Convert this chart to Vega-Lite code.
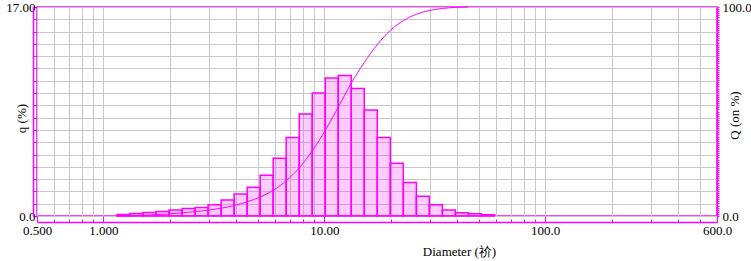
{
  "$schema": "https://vega.github.io/schema/vega-lite/v6.json",
  "width": 680,
  "height": 209,
  "autosize": {"type": "none"},
  "padding": {"left": 37, "top": 7, "right": 34, "bottom": 45},
  "background": "white",
  "config": {
    "font": "'Liberation Serif', 'Times New Roman', 'DejaVu Serif', serif",
    "view": {"stroke": "#ff00ff", "strokeWidth": 1.5},
    "axis": {
      "labelFont": "'Liberation Serif', 'Times New Roman', 'DejaVu Serif', serif",
      "titleFont": "'Liberation Serif', 'Times New Roman', 'DejaVu Serif', serif",
      "labelFontSize": 13,
      "titleFontSize": 13,
      "titleFontWeight": "normal",
      "labelColor": "black",
      "titleColor": "black",
      "domainColor": "#ff00ff",
      "domainWidth": 1.5,
      "tickColor": "#ff00ff",
      "tickWidth": 1,
      "gridColor": "#c8c8c8",
      "gridWidth": 1,
      "gridOpacity": 1,
      "labelFlush": false,
      "labelOverlap": false
    }
  },
  "datasets": {
    "bins": [
      {"lo": 1.151, "hi": 1.318, "q": 0.13},
      {"lo": 1.318, "hi": 1.51, "q": 0.21},
      {"lo": 1.51, "hi": 1.729, "q": 0.29},
      {"lo": 1.729, "hi": 1.981, "q": 0.37},
      {"lo": 1.981, "hi": 2.269, "q": 0.49},
      {"lo": 2.269, "hi": 2.599, "q": 0.6},
      {"lo": 2.599, "hi": 2.976, "q": 0.7},
      {"lo": 2.976, "hi": 3.409, "q": 0.92},
      {"lo": 3.409, "hi": 3.905, "q": 1.3},
      {"lo": 3.905, "hi": 4.472, "q": 1.79},
      {"lo": 4.472, "hi": 5.122, "q": 2.34},
      {"lo": 5.122, "hi": 5.867, "q": 3.32},
      {"lo": 5.867, "hi": 6.72, "q": 4.7},
      {"lo": 6.72, "hi": 7.697, "q": 6.39},
      {"lo": 7.697, "hi": 8.816, "q": 8.29},
      {"lo": 8.816, "hi": 10.1, "q": 10.0},
      {"lo": 10.1, "hi": 11.56, "q": 11.23},
      {"lo": 11.56, "hi": 13.24, "q": 11.42},
      {"lo": 13.24, "hi": 15.17, "q": 10.38},
      {"lo": 15.17, "hi": 17.37, "q": 8.62},
      {"lo": 17.37, "hi": 19.9, "q": 6.39},
      {"lo": 19.9, "hi": 22.79, "q": 4.3},
      {"lo": 22.79, "hi": 26.11, "q": 2.72},
      {"lo": 26.11, "hi": 29.9, "q": 1.6},
      {"lo": 29.9, "hi": 34.25, "q": 0.92},
      {"lo": 34.25, "hi": 39.23, "q": 0.49},
      {"lo": 39.23, "hi": 44.94, "q": 0.27},
      {"lo": 44.94, "hi": 51.47, "q": 0.19},
      {"lo": 51.47, "hi": 58.95, "q": 0.1}
    ],
    "cum": [
      {"d": 1.151, "Q": 0},
      {"d": 1.318, "Q": 0.13},
      {"d": 1.51, "Q": 0.34},
      {"d": 1.729, "Q": 0.63},
      {"d": 1.981, "Q": 1.0},
      {"d": 2.269, "Q": 1.49},
      {"d": 2.599, "Q": 2.09},
      {"d": 2.976, "Q": 2.79},
      {"d": 3.409, "Q": 3.71},
      {"d": 3.905, "Q": 5.0},
      {"d": 4.472, "Q": 6.75},
      {"d": 5.122, "Q": 9.05},
      {"d": 5.867, "Q": 12.3},
      {"d": 6.72, "Q": 16.9},
      {"d": 7.697, "Q": 23.0},
      {"d": 8.816, "Q": 31.2},
      {"d": 10.1, "Q": 41.0},
      {"d": 11.56, "Q": 52.0},
      {"d": 13.24, "Q": 63.5},
      {"d": 15.17, "Q": 73.5},
      {"d": 17.37, "Q": 82.0},
      {"d": 19.9, "Q": 88.8},
      {"d": 22.79, "Q": 93.5},
      {"d": 26.11, "Q": 96.5},
      {"d": 29.9, "Q": 98.3},
      {"d": 34.25, "Q": 99.3},
      {"d": 39.23, "Q": 99.8},
      {"d": 44.94, "Q": 100}
    ]
  },
  "layer": [
    {
      "data": {"name": "bins"},
      "mark": {"type": "rect", "fill": "#ff00ff", "fillOpacity": 0.2, "stroke": "#ff00ff", "strokeWidth": 1.5},
      "encoding": {
        "x": {
          "field": "lo",
          "type": "quantitative",
          "scale": {"type": "log", "domain": [0.5, 600], "nice": false},
          "axis": {
            "title": "Diameter (祄)",
            "values": [0.5, 0.6, 0.7, 0.8, 0.9, 1, 2, 3, 4, 5, 6, 7, 8, 9, 10, 20, 30, 40, 50, 60, 70, 80, 90, 100, 200, 300, 400, 500, 600],
            "labelExpr": "datum.value == 0.5 ? '0.500' : datum.value == 1 ? '1.000' : datum.value == 10 ? '10.00' : datum.value == 100 ? '100.0' : datum.value == 600 ? '600.0' : ''",
            "grid": true,
            "offset": 6,
            "tickSize": {"condition": {"test": "datum.value == 0.5 || datum.value == 1 || datum.value == 10 || datum.value == 100 || datum.value == 600", "value": -6}, "value": -3},
            "labelPadding": 8,
            "titleX": 422,
            "titleY": 29,
            "titleAlign": "center",
            "titleBaseline": "middle"
          }
        },
        "x2": {"field": "hi"},
        "y": {
          "field": "q",
          "type": "quantitative",
          "scale": {"domain": [0, 17], "nice": false},
          "axis": {
            "title": "q (%)",
            "values": [0, 1, 2, 3, 4, 5, 6, 7, 8, 9, 10, 11, 12, 13, 14, 15, 16, 17],
            "labelExpr": "datum.value == 17 ? '17.00' : datum.value == 0 ? '0.0' : ''",
            "grid": true,
            "offset": 4,
            "tickSize": -4,
            "labelPadding": 2,
            "titleX": -12,
            "titleY": 111,
            "titleAngle": -90,
            "titleAlign": "center",
            "titleBaseline": "middle"
          }
        },
        "y2": {"datum": 0}
      }
    },
    {
      "data": {"name": "cum"},
      "mark": {"type": "line", "interpolate": "monotone", "color": "#ff00ff", "strokeWidth": 1},
      "encoding": {
        "x": {"field": "d", "type": "quantitative"},
        "y": {
          "field": "Q",
          "type": "quantitative",
          "scale": {"domain": [0, 100], "nice": false},
          "axis": {
            "orient": "right",
            "title": "Q (on %)",
            "values": [0,1,2,3,4,5,6,7,8,9,10,11,12,13,14,15,16,17,18,19,20,21,22,23,24,25,26,27,28,29,30,31,32,33,34,35,36,37,38,39,40,41,42,43,44,45,46,47,48,49,50,51,52,53,54,55,56,57,58,59,60,61,62,63,64,65,66,67,68,69,70,71,72,73,74,75,76,77,78,79,80,81,82,83,84,85,86,87,88,89,90,91,92,93,94,95,96,97,98,99,100],
            "labelExpr": "datum.value == 100 ? '100.0' : datum.value == 0 ? '0.0' : ''",
            "grid": false,
            "tickSize": 2,
            "labelPadding": 3,
            "titleX": 17,
            "titleY": 108,
            "titleAngle": -90,
            "titleAlign": "center",
            "titleBaseline": "middle"
          }
        }
      }
    }
  ],
  "resolve": {"scale": {"y": "independent"}}
}
